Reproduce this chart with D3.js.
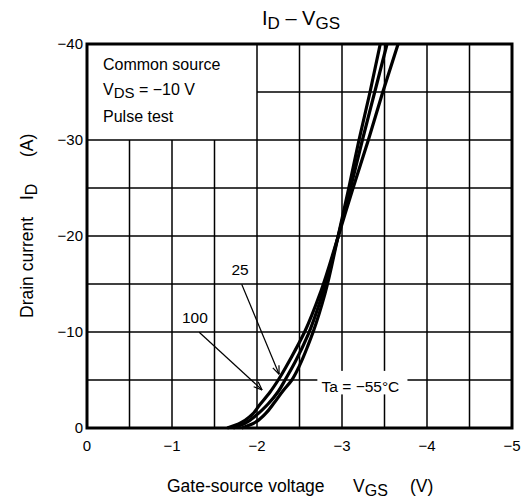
<!DOCTYPE html>
<html><head><meta charset="utf-8">
<script src="https://cdn.jsdelivr.net/npm/d3@7"></script>
<style>
html,body{margin:0;padding:0;background:#fff;}
text{font-family:"Liberation Sans",Arial,sans-serif;fill:#000;}
</style></head>
<body>
<svg id="c" width="523" height="502"></svg>
<script>
// ---- data (VGS in V, ID in A) ----
const xTicks = [0, -1, -2, -3, -4, -5];
const yTicks = [0, -10, -20, -30, -40];
const xGrid = [-0.5, -1, -1.5, -2, -2.5, -3, -3.5, -4, -4.5];
const yGrid = [-5, -10, -15, -20, -25, -30, -35];
const seriesNames = ["100", "25", "-55"];
const vgs100 = [-1.65, -1.8, -1.93, -2.03, -2.15, -2.25, -2.4, -2.56, -2.75, -2.95, -3.13, -3.31, -3.48, -3.66];
const id100  = [0, -0.5, -1.3, -2.4, -3.7, -5, -7.3, -10, -14.2, -19.8, -25, -30, -35, -40];
const vgs25  = [-1.72, -1.85, -2.0, -2.13, -2.25, -2.33, -2.45, -2.6, -2.75, -2.95, -3.1, -3.24, -3.385, -3.53];
const id25   = [0, -0.45, -1.4, -2.5, -3.8, -5, -6.9, -9.7, -13.4, -19.8, -25, -30, -35, -40];
const vgsM55 = [-1.82, -1.95, -2.1, -2.2, -2.3, -2.41, -2.5, -2.6, -2.66, -2.8, -2.95, -3.08, -3.2, -3.33, -3.45];
const idM55  = [0, -0.45, -1.5, -2.6, -3.8, -5, -6.5, -8.6, -10, -14, -19.8, -25, -30, -35, -40];

const svg = d3.select("#c");
const x = d3.scaleLinear().domain([0, -5]).range([87, 512]);
const y = d3.scaleLinear().domain([0, -40]).range([428, 44]);

// grid
const g = svg.append("g").attr("stroke", "#000").attr("stroke-width", 1.5);
xGrid.forEach(v => {
  const top = v > -2 ? -30 : -40;
  g.append("line").attr("x1", x(v)).attr("x2", x(v)).attr("y1", y(0)).attr("y2", y(top));
});
yGrid.forEach(v => {
  const left = v < -30 ? -2 : 0;
  g.append("line").attr("x1", x(left)).attr("x2", x(-5)).attr("y1", y(v)).attr("y2", y(v));
});

// Ta label background
svg.append("rect").attr("x", x(-2.71)).attr("y", y(-5.95))
  .attr("width", x(-3.77) - x(-2.71)).attr("height", y(-3.5) - y(-5.95)).attr("fill", "#fff");

// curves
const line = d3.line().x(d => x(d[0])).y(d => y(d[1])).curve(d3.curveMonotoneY);
const series = [d3.zip(vgs100, id100), d3.zip(vgs25, id25), d3.zip(vgsM55, idM55)];
svg.append("g").selectAll("path").data(series).join("path")
  .attr("d", line).attr("fill", "none").attr("stroke", "#000").attr("stroke-width", 3.2)
  .attr("stroke-linejoin", "round");

// frame
svg.append("rect").attr("x", x(0)).attr("y", y(-40)).attr("width", x(-5) - x(0)).attr("height", y(0) - y(-40))
  .attr("fill", "none").attr("stroke", "#000").attr("stroke-width", 3);

// tick labels
svg.append("g").selectAll("text").data(yTicks).join("text")
  .attr("x", 83).attr("y", d => y(d) + 5).attr("text-anchor", "end").attr("font-size", 15)
  .text(d => d === 0 ? "0" : "\u2212" + Math.abs(d));
svg.append("g").selectAll("text").data(xTicks).join("text")
  .attr("x", d => x(d)).attr("y", 451).attr("text-anchor", "middle").attr("font-size", 15)
  .text(d => d === 0 ? "0" : "\u2212" + Math.abs(d));

// title
const t = svg.append("text").attr("x", 301).attr("y", 25).attr("text-anchor", "middle").attr("font-size", 20);
t.append("tspan").text("I");
t.append("tspan").attr("dy", 4).attr("font-size", 17).text("D");
t.append("tspan").attr("dy", -4).text(" \u2013 V");
t.append("tspan").attr("dy", 4).attr("font-size", 17).text("GS");

// legend text
svg.append("text").attr("x", 103).attr("y", 70).attr("font-size", 16).text("Common source");
const v = svg.append("text").attr("x", 103).attr("y", 95).attr("font-size", 16);
v.append("tspan").text("V");
v.append("tspan").attr("dy", 3).attr("font-size", 15).text("DS");
v.append("tspan").attr("dy", -3).text(" = \u221210 V");
svg.append("text").attr("x", 103).attr("y", 122).attr("font-size", 16).text("Pulse test");

// axis labels
const xl = svg.append("text").attr("x", 167).attr("y", 492).attr("font-size", 17.5);
xl.append("tspan").text("Gate-source voltage");
xl.append("tspan").attr("x", 353).text("V");
xl.append("tspan").attr("dy", 4).attr("font-size", 16).text("GS");
xl.append("tspan").attr("dy", -4).attr("x", 410).text("(V)");
const yl = svg.append("text").attr("transform", "translate(33,0) rotate(-90)").attr("font-size", 17.5);
yl.append("tspan").attr("x", -318).text("Drain current");
yl.append("tspan").attr("x", -200).text("I");
yl.append("tspan").attr("dy", 4).attr("font-size", 16).text("D");
yl.append("tspan").attr("dy", -4).attr("x", -157).text("(A)");

// annotations
const ann = [
  {label: "100", lx: -1.27, ly: -10.9, from: [-1.32, -10.5], to: [-2.06, -3.96]},
  {label: "25", lx: -1.8, ly: -15.9, from: [-1.82, -15.5], to: [-2.26, -5.6]}
];
ann.forEach(a => {
  svg.append("text").attr("x", x(a.lx)).attr("y", y(a.ly)).attr("text-anchor", "middle").attr("font-size", 15.5).text(a.label);
  const x1 = x(a.from[0]), y1 = y(a.from[1]) + 5, x2 = x(a.to[0]), y2 = y(a.to[1]);
  svg.append("line").attr("x1", x1).attr("y1", y1).attr("x2", x2).attr("y2", y2).attr("stroke", "#000").attr("stroke-width", 1.2);
  const ang = Math.atan2(y2 - y1, x2 - x1), L = 9, s = 0.38;
  [ang + Math.PI - s, ang + Math.PI + s].forEach(b => {
    svg.append("line").attr("x1", x2).attr("y1", y2).attr("x2", x2 + L * Math.cos(b)).attr("y2", y2 + L * Math.sin(b))
      .attr("stroke", "#000").attr("stroke-width", 1.2);
  });
});
svg.append("text").attr("x", x(-2.76)).attr("y", y(-3.75)).attr("font-size", 15.5).text("Ta = \u221255\u00b0C");
</script>
</body></html>
